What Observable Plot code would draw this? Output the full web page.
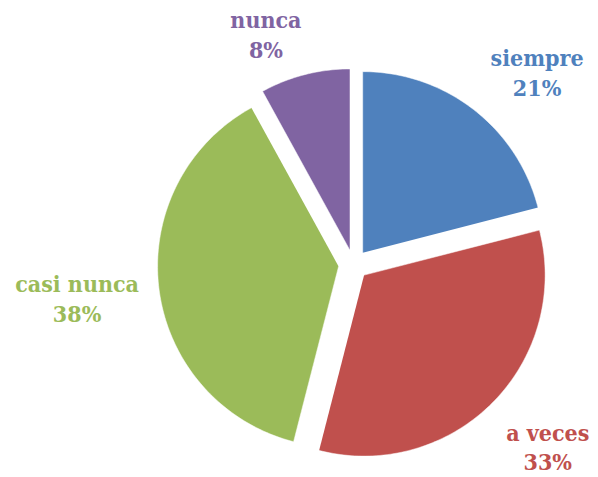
<!DOCTYPE html>
<html><head><meta charset="utf-8">
<script src="https://cdn.jsdelivr.net/npm/d3@7"></script>
<script src="https://cdn.jsdelivr.net/npm/@observablehq/plot@0.6"></script>
<style>body{margin:0;background:#fff}</style>
</head><body><div id="chart"></div>
<script>
// data
const categories = ["siempre", "a veces", "casi nunca", "nunca"];
const values = [21, 33, 38, 8];
const colors = ["#4F81BD", "#C0504D", "#9BBB59", "#8064A2"];

// layout (pie radius = 1 unit)
const W = 598, H = 477, cx = 353, cy = 264, R = 181;
const explode = 0.083;
const labelAngleDeg = [44, 133.5, 262.6, 339];
const labelRadius = [1.46, 1.48, 1.54, 1.35];

const pie = d3.pie().sort(null).value(d => d)(values);
const slices = [];
const labels = [];
pie.forEach((p, i) => {
  const mid = (p.startAngle + p.endAngle) / 2;
  const ox = explode * Math.sin(mid), oy = -explode * Math.cos(mid);
  const n = Math.max(4, Math.ceil((p.endAngle - p.startAngle) / 0.02));
  slices.push({key: categories[i], x: ox, y: oy});
  for (let k = 0; k <= n; k++) {
    const a = p.startAngle + (p.endAngle - p.startAngle) * k / n;
    slices.push({key: categories[i], x: ox + Math.sin(a), y: oy - Math.cos(a)});
  }
  const la = labelAngleDeg[i] * Math.PI / 180;
  labels.push({key: categories[i], x: labelRadius[i] * Math.sin(la), y: -labelRadius[i] * Math.cos(la),
    text: categories[i] + "\n" + Math.round(p.value / d3.sum(values) * 100) + "%"});
});

const chart = Plot.plot({
  width: W, height: H,
  margin: 0,
  x: {domain: [-cx / R, (W - cx) / R], range: [0, W], axis: null},
  y: {domain: [-cy / R, (H - cy) / R], range: [0, H], axis: null},
  color: {domain: categories, range: colors},
  marks: [
    Plot.line(slices, {x: "x", y: "y", z: "key", fill: "key", stroke: "#fff", strokeWidth: 0.5, curve: "linear"}),
    Plot.text(labels, {x: "x", y: "y", text: "text", fill: "key", fontSize: 23, fontWeight: "bold", dy: -3,
      fontFamily: "DejaVu Serif Condensed, DejaVu Serif, serif", lineHeight: 1.3})
  ]
});
document.getElementById("chart").appendChild(chart);
</script></body></html>
